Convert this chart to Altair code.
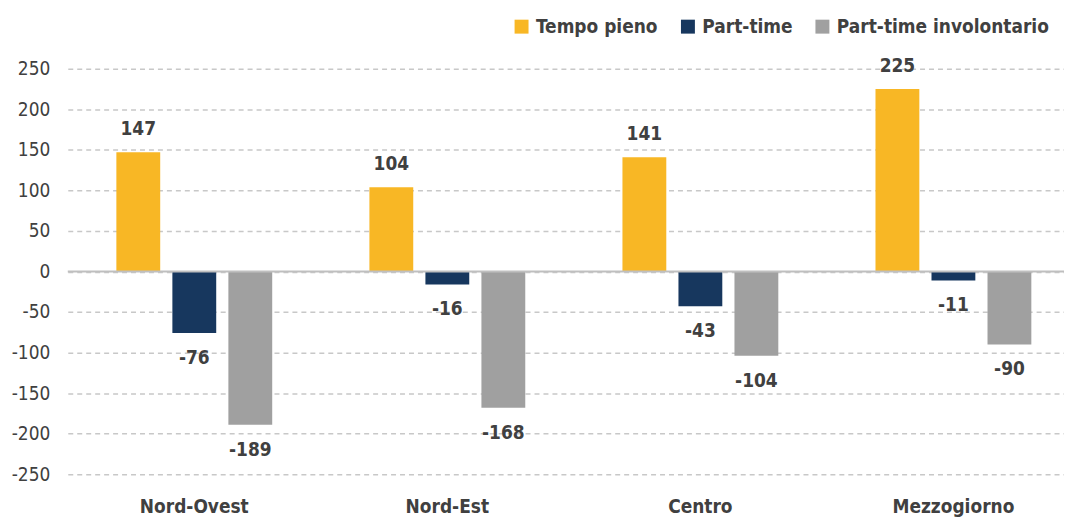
import altair as alt
import pandas as pd

regions = ["Nord-Ovest", "Nord-Est", "Centro", "Mezzogiorno"]
series = ["Tempo pieno", "Part-time", "Part-time involontario"]
tempo_pieno = [147, 104, 141, 225]
part_time = [-76, -16, -43, -11]
part_time_invol = [-189, -168, -104, -90]
colors = ["#F8B725", "#17375E", "#A0A0A0"]
y_ticks = [-250, -200, -150, -100, -50, 0, 50, 100, 150, 200, 250]

rows = []
for i, r in enumerate(regions):
    for s, vals in zip(series, [tempo_pieno, part_time, part_time_invol]):
        rows.append({"regione": r, "serie": s, "valore": vals[i]})
df = pd.DataFrame(rows)

FONT = "DejaVu Sans Condensed, sans-serif"
TXT = "#404040"
FS = 19
MINUS_FIX = "datum.value < 0 ? '-' + abs(datum.value) : '' + datum.value"

x = alt.X("regione:N", sort=regions, title=None,
          scale=alt.Scale(paddingInner=0, paddingOuter=0, range=[0, 1016]),
          axis=alt.Axis(domain=False, ticks=False, labelAngle=0, labelPadding=23,
                        labelFontSize=FS, labelFont=FONT, labelFontWeight="bold",
                        labelColor=TXT))
xo = alt.XOffset("serie:N", sort=series,
                 scale=alt.Scale(paddingInner=0.214, paddingOuter=0.866))
y = alt.Y("valore:Q", title=None,
          scale=alt.Scale(domain=[-250, 250], nice=False),
          axis=alt.Axis(values=y_ticks, domain=False, ticks=False, labelPadding=18,
                        labelFontSize=FS, labelFont=FONT, labelColor=TXT,
                        labelExpr=MINUS_FIX,
                        gridDash=[5, 4], gridColor="#C8C8C8", gridWidth=1.5))
color = alt.Color("serie:N", sort=series,
                  scale=alt.Scale(domain=series, range=colors),
                  legend=alt.Legend(title=None, orient="none", direction="horizontal",
                                    legendX=446, legendY=-52, symbolType="square",
                                    symbolSize=196, symbolStrokeWidth=0,
                                    labelFontSize=FS, labelFont=FONT, labelLimit=400,
                                    labelFontWeight="bold", labelColor=TXT,
                                    columnPadding=20, labelOffset=5))

base = alt.Chart(df).transform_calculate(
    lbl="datum.valore < 0 ? '-' + abs(datum.valore) : '' + datum.valore"
)
bars = base.mark_bar(size=44).encode(x=x, xOffset=xo, y=y, color=color)
zero = alt.Chart(pd.DataFrame({"v": [0]})).mark_rule(color="#BFBFBF", strokeWidth=2).encode(y="v:Q")
pos = base.transform_filter("datum.valore >= 0").mark_text(
    dy=-23, baseline="middle", fontSize=FS, font=FONT, fontWeight="bold", color=TXT
).encode(x=x, xOffset=xo, y=y, text="lbl:N")
neg = base.transform_filter("datum.valore < 0").mark_text(
    dy=25, baseline="middle", fontSize=FS, font=FONT, fontWeight="bold", color=TXT
).encode(x=x, xOffset=xo, y=y, text="lbl:N")

chart = alt.layer(bars, zero, pos, neg).properties(
    width=1000, height=407,
    autosize=alt.AutoSizeParams(type="none"),
    padding={"left": 60, "top": 60, "right": 0, "bottom": 44},
).configure_view(stroke=None)

chart.save("out.html", embed_options={"renderer": "svg", "actions": False})
